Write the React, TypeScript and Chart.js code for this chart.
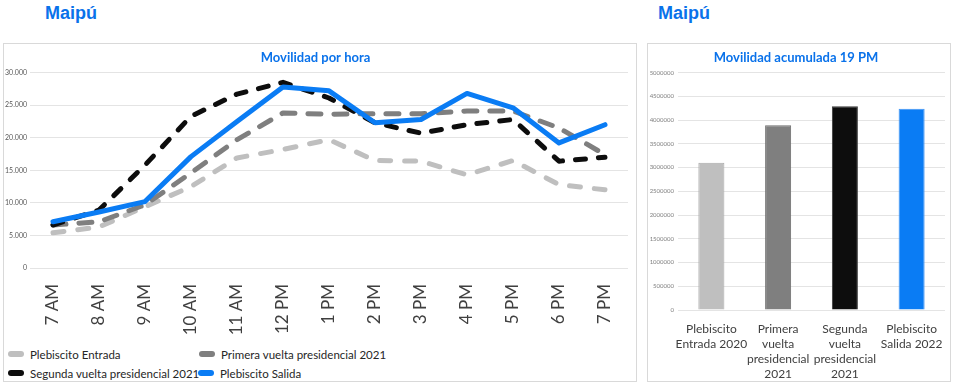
import React, { useEffect, useRef } from 'react';
import { Chart, registerables } from 'chart.js';

Chart.register(...registerables);

const hours = ['7 AM', '8 AM', '9 AM', '10 AM', '11 AM', '12 PM', '1 PM', '2 PM', '3 PM', '4 PM', '5 PM', '6 PM', '7 PM'];
const plebiscitoEntrada = [5400, 6300, 9400, 12500, 16900, 18200, 19700, 16500, 16400, 14300, 16500, 12800, 12000];
const primeraVuelta = [6600, 7100, 9700, 14600, 19700, 23800, 23600, 23700, 23700, 24100, 24100, 21500, 17400];
const segundaVuelta = [6600, 8900, 15800, 23300, 26700, 28500, 26100, 22300, 20700, 22000, 22800, 16400, 17000];
const plebiscitoSalida = [7100, 8600, 10200, 17100, 22500, 27800, 27200, 22300, 22800, 26800, 24600, 19200, 22000];

const seriesNames = ['Plebiscito Entrada', 'Primera vuelta presidencial 2021', 'Segunda vuelta presidencial 2021', 'Plebiscito Salida'];

const barCategories = [
  ['Plebiscito', 'Entrada 2020'],
  ['Primera', 'vuelta', 'presidencial', '2021'],
  ['Segunda', 'vuelta', 'presidencial', '2021'],
  ['Plebiscito', 'Salida 2022'],
];
const movilidadAcumulada = [3100000, 3890000, 4290000, 4240000];

const LIGHT = '#bfbfbf';
const DARK = '#7f7f7f';
const BLACK = '#0d0d0d';
const BLUE = '#0a7cf4';
const TITLE_BLUE = '#0a72ea';
const FONT = 'Lato, "Noto Sans", sans-serif';

const fmtDots = (v: number) => String(Math.round(v)).replace(/\B(?=(\d{3})+(?!\d))/g, '.');

function LineChart() {
  const ref = useRef<HTMLCanvasElement>(null);
  useEffect(() => {
    const chart = new Chart(ref.current!, {
      type: 'line',
      data: {
        labels: hours,
        datasets: [
          { label: seriesNames[0], data: plebiscitoEntrada, borderColor: LIGHT, borderDash: [11, 14], order: 4 },
          { label: seriesNames[1], data: primeraVuelta, borderColor: DARK, borderDash: [13, 13], order: 3 },
          { label: seriesNames[2], data: segundaVuelta, borderColor: BLACK, borderDash: [10, 13], order: 2 },
          { label: seriesNames[3], data: plebiscitoSalida, borderColor: BLUE, order: 1 },
        ],
      },
      options: {
        responsive: false,
        animation: false,
        devicePixelRatio: 1,
        layout: { padding: { left: 0, right: 9, top: 0, bottom: 0 } },
        elements: {
          point: { radius: 0 },
          line: { borderWidth: 5, tension: 0, borderCapStyle: 'round', borderJoinStyle: 'round' },
        },
        plugins: {
          legend: { display: false },
          tooltip: { enabled: false },
          title: {
            display: true,
            text: 'Movilidad por hora',
            color: TITLE_BLUE,
            font: { family: FONT, size: 13, weight: 'bold' },
            padding: { top: 7, bottom: 7 },
          },
        },
        scales: {
          x: {
            offset: true,
            grid: { display: false },
            border: { display: false },
            ticks: {
              minRotation: 90,
              maxRotation: 90,
              autoSkip: false,
              padding: 8,
              color: '#404040',
              font: { family: FONT, size: 17 },
            },
            afterFit: (s: any) => { s.height = 75; },
          },
          y: {
            min: 0,
            max: 30000,
            ticks: {
              stepSize: 5000,
              callback: (v: any) => fmtDots(Number(v)),
              color: '#595959',
              font: { family: FONT, size: 7 },
              padding: 3,
            },
            grid: { color: '#e4e4e4', drawTicks: false },
            border: { display: false },
            afterFit: (s: any) => { s.width = 27; },
          },
        },
      },
    } as any);
    return () => chart.destroy();
  }, []);
  return <canvas ref={ref} width={634} height={300} style={{ position: 'absolute', left: 3, top: 43 }} />;
}

function BarChart() {
  const ref = useRef<HTMLCanvasElement>(null);
  useEffect(() => {
    const chart = new Chart(ref.current!, {
      type: 'bar',
      data: {
        labels: barCategories,
        datasets: [
          {
            label: 'Movilidad acumulada 19 PM',
            data: movilidadAcumulada,
            backgroundColor: [LIGHT, DARK, BLACK, BLUE],
            borderColor: ['#a9a9a9', '#6e6e6e', '#3a3a3a', '#3d93f5'],
            borderWidth: 1,
            barPercentage: 0.39,
            categoryPercentage: 1,
          },
        ],
      },
      options: {
        responsive: false,
        animation: false,
        devicePixelRatio: 1,
        layout: { padding: { left: 0, right: 6, top: 0, bottom: 0 } },
        plugins: {
          legend: { display: false },
          tooltip: { enabled: false },
          title: {
            display: true,
            text: 'Movilidad acumulada 19 PM',
            color: TITLE_BLUE,
            font: { family: FONT, size: 13, weight: 'bold' },
            padding: { top: 7, bottom: 7 },
          },
        },
        scales: {
          x: {
            grid: { display: false },
            border: { display: false },
            ticks: {
              autoSkip: false,
              maxRotation: 0,
              minRotation: 0,
              padding: 4,
              color: '#404040',
              font: { family: FONT, size: 12, lineHeight: 1.25 },
            },
            afterFit: (s: any) => { s.height = 71; },
          },
          y: {
            min: 0,
            max: 5000000,
            ticks: {
              stepSize: 500000,
              callback: (v: any) => String(v),
              color: '#7f7f7f',
              font: { family: FONT, size: 6 },
              padding: 4,
            },
            grid: { color: '#e4e4e4', drawTicks: false },
            border: { display: false },
            afterFit: (s: any) => { s.width = 31; },
          },
        },
      },
    } as any);
    return () => chart.destroy();
  }, []);
  return <canvas ref={ref} width={304} height={338} style={{ position: 'absolute', left: 647, top: 43 }} />;
}

const legendColors = [LIGHT, DARK, BLACK, BLUE];
const legendPos = [
  { x: 8, y: 354 },
  { x: 199, y: 354 },
  { x: 8, y: 373 },
  { x: 198, y: 373 },
];

function Legend() {
  return (
    <>
      {seriesNames.map((name, i) => (
        <div
          key={name}
          style={{
            position: 'absolute',
            left: legendPos[i].x,
            top: legendPos[i].y - 8,
            height: 16,
            display: 'flex',
            alignItems: 'center',
            fontFamily: FONT,
            fontSize: 11.5,
            color: '#262626',
            whiteSpace: 'nowrap',
          }}
        >
          <span style={{ display: 'inline-block', width: 16, height: 6, borderRadius: 3, background: legendColors[i], marginRight: 6 }} />
          <span>{name}</span>
        </div>
      ))}
    </>
  );
}

export default function App() {
  const headerStyle: React.CSSProperties = {
    position: 'absolute',
    top: 2,
    fontFamily: '"Liberation Sans", Arial, sans-serif',
    fontWeight: 'bold',
    fontSize: 18,
    lineHeight: '22px',
    color: TITLE_BLUE,
  };
  return (
    <div style={{ position: 'fixed', left: 0, top: 0, width: 957, height: 390, background: '#ffffff', overflow: 'hidden' }}>
      <div style={{ ...headerStyle, left: 45 }}>Maipú</div>
      <div style={{ ...headerStyle, left: 658 }}>Maipú</div>
      <div style={{ position: 'absolute', left: 3, top: 43, width: 632, height: 337, border: '1px solid #d9d9d9' }} />
      <div style={{ position: 'absolute', left: 647, top: 43, width: 302, height: 337, border: '1px solid #d9d9d9' }} />
      <LineChart />
      <BarChart />
      <Legend />
    </div>
  );
}
